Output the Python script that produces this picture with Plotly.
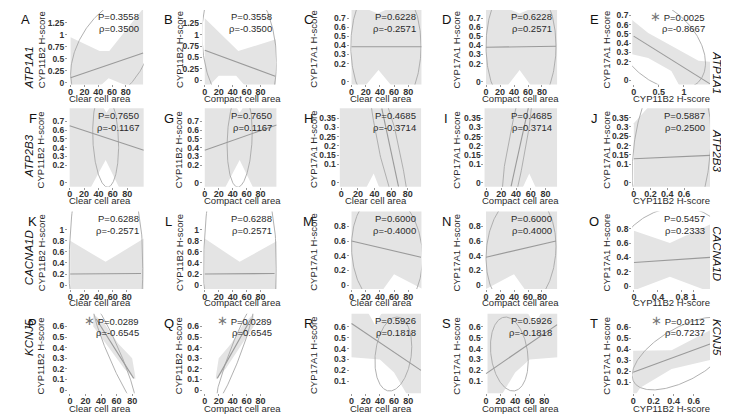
import numpy as np
import plotly.graph_objects as go

W, H = 729, 414
FONT = "Liberation Sans, Arial, sans-serif"
BAND = "#e4e4e4"
LINE_C = "#9a9a9a"
ELL_C = "#a8a8a8"
TXT = "#2a2a2a"

letters = list("ABCDEFGHIJKLMNOPQRST")
genes = ["ATP1A1", "ATP2B3", "CACNA1D", "KCNJ5"]
p_vals = ["0.3558", "0.3558", "0.6228", "0.6228", "0.0025",
          "0.7650", "0.7650", "0.4685", "0.4685", "0.5887",
          "0.6288", "0.6288", "0.6000", "0.6000", "0.5457",
          "0.0289", "0.0289", "0.5926", "0.5926", "0.0112"]
rho_vals = ["0.3500", "-0.3500", "-0.2571", "0.2571", "-0.8667",
            "-0.1167", "0.1167", "-0.3714", "0.3714", "0.2500",
            "-0.2571", "0.2571", "-0.4000", "0.4000", "0.2333",
            "-0.6545", "0.6545", "0.1818", "-0.1818", "0.7237"]
significant = [False, False, False, False, True,
               False, False, False, False, False,
               False, False, False, False, False,
               True, True, False, False, True]

x_titles = ["Clear cell area", "Compact cell area", "Clear cell area",
            "Compact cell area", "CYP11B2 H-score"]
y_titles = ["CYP11B2 H-score", "CYP11B2 H-score", "CYP17A1 H-score",
            "CYP17A1 H-score", "CYP17A1 H-score"]

# axis ranges
x_ranges = [[-3.9, 106], [-2.9, 103], [-2.8, 98.6], [-2.4, 101.8], [-0.03, 1.52],
            [-2.4, 103], [-2.9, 103], [-2, 96.3], [-3, 96], [-0.02, 0.91],
            [-3.2, 104], [-2.9, 103], [-2.8, 98.6], [-2.4, 101.8], [-0.03, 1.27],
            [-2.6, 95], [-2.9, 103], [-2.8, 98.6], [-2.4, 98], [-0.01, 0.76]]
y_ranges = [[-0.04, 1.52], [-0.09, 1.54], [-0.03, 0.79], [-0.03, 0.79], [-0.046, 0.757],
            [-0.045, 0.85], [-0.045, 0.85], [-0.022, 0.404], [-0.022, 0.404], [-0.02, 0.40],
            [-0.07, 1.33], [-0.07, 1.33], [-0.05, 1.0], [-0.05, 1.0], [-0.04, 1.04],
            [-0.03, 0.72], [-0.03, 0.72], [-0.01, 0.72], [-0.01, 0.72], [0.0, 0.72]]

xt_area = [0, 20, 40, 60, 80]
x_ticks = [xt_area] * 4 + [[0, 0.5, 1]] + [xt_area] * 4 + [[0, 0.2, 0.4, 0.6]] + \
          [xt_area] * 4 + [[0, 0.4, 0.8, 1]] + [xt_area] * 4 + [[0, 0.2, 0.4, 0.6]]
yt_a = [0, 0.25, 0.5, 0.75, 1, 1.25]
yt_b = [0, 0.2, 0.3, 0.4, 0.5, 0.6, 0.7]
yt_c = [0, 0.1, 0.15, 0.2, 0.25, 0.3, 0.35]
yt_d = [0, 0.2, 0.4, 0.6, 0.8, 1]
yt_e = [0, 0.2, 0.4, 0.6, 0.8]
yt_f = [0, 0.1, 0.2, 0.3, 0.4, 0.5, 0.6]
yt_g = [0.1, 0.2, 0.3, 0.4, 0.5, 0.6]
y_ticks = [yt_a, yt_a, yt_b, yt_b, yt_b,
           yt_b, yt_b, yt_c, yt_c, yt_c,
           yt_d, yt_d, yt_e, yt_e, yt_e,
           yt_f, yt_f, yt_g, yt_g, yt_g]

# regression lines (x0, y0, x1, y1)
line_x0 = [0, 0, 0, 0, 0, 0, 0, 48.7, 33.3, 0, 0, 0, 0, 0, 0, 33.7, 18, 0, 0, 0]
line_y0 = [0.10, 0.66, 0.385, 0.38, 0.475, 0.65, 0.37, 0.404, -0.02, 0.13,
           0.20, 0.20, 0.60, 0.38, 0.33, 0.67, 0.11, 0.63, 0.17, 0.19]
line_x1 = [105, 101, 100, 100, 1.52, 103, 103, 68.8, 56.9, 0.91,
           100, 100, 98, 100, 1.27, 82, 66, 98, 98, 0.76]
line_y1 = [0.62, 0.09, 0.385, 0.39, -0.04, 0.37, 0.66, -0.022, 0.409, 0.148,
           0.21, 0.21, 0.38, 0.60, 0.40, 0.11, 0.67, 0.20, 0.62, 0.445]

# confidence band edges
hi_x = [[0, 42, 56, 105], [0, 48, 102], [0, 25, 37, 48, 100], [0, 36, 48, 60, 102],
        [-0.03, 0.29, 0.75, 1.29, 1.52],
        [0, 46, 51, 56, 103], [0, 45, 50, 55, 103], [-2, 96], [-3, 96], [0, 0.2, 0.91],
        [0, 50, 104], [0, 50, 104], [0, 100], [0, 102], [0, 0.6, 1.27],
        [30, 45, 62, 80, 84], [16, 20, 38, 55, 70], [0, 25, 33, 42, 98], [2, 58, 67, 75, 100],
        [0, 0.38, 0.76]]
hi_y = [[0.95, 0.66, 0.66, 1.55], [1.36, 0.64, 0.9], [1.4, 0.79, 0.75, 0.79, 1.4], [1.4, 0.79, 0.75, 0.79, 1.4],
        [0.65, 0.51, 0.37, 0.21, 0.2],
        [1.5, 0.86, 0.8, 0.86, 1.5], [1.5, 0.86, 0.8, 0.86, 1.5], [0.6, 0.6], [0.6, 0.6], [0.32, 0.42, 0.6],
        [0.8, 0.42, 0.84], [0.84, 0.42, 0.8], [1.5, 1.5], [1.5, 1.5], [0.77, 0.6, 0.86],
        [0.72, 0.62, 0.44, 0.30, 0.13], [0.13, 0.30, 0.44, 0.62, 0.72], [1.0, 0.72, 0.62, 0.72, 1.0],
        [1.0, 0.72, 0.62, 0.72, 1.0], [0.385, 0.39, 0.57]]
lo_x = [[0, 45, 55, 77, 105], [0, 8, 20, 45, 56, 102], [0, 21, 38, 55, 100], [0, 32, 48, 63, 102],
        [-0.03, 0.29, 0.75, 0.9, 1.52],
        [0, 31, 50, 68.5, 103], [0, 32, 50, 69, 103], [-2, 31, 39, 45, 96], [-3, 50, 58, 66, 96], [0, 0.91],
        [0, 104], [0, 104], [0, 45, 60, 100], [0, 40, 55, 102], [0, 0.6, 1.27],
        [30, 40, 55, 70, 84], [16, 30, 45, 60, 70], [0, 40, 60, 78, 98], [2, 22, 40, 60, 100],
        [0, 0.07, 0.38, 0.76]]
lo_y = [[-0.4, -0.04, 0.09, -0.04, -0.4], [-0.3, -0.09, 0.1, 0.1, -0.09, -0.4], [-0.6, -0.03, 0.13, -0.03, -0.6],
        [-0.6, -0.03, 0.13, -0.03, -0.6],
        [0.28, 0.24, 0.1, -0.05, -0.2],
        [-0.5, -0.05, 0.26, -0.05, -0.5], [-0.5, -0.05, 0.26, -0.05, -0.5], [-0.2, -0.02, 0.05, -0.02, -0.2],
        [-0.2, -0.02, 0.05, -0.02, -0.2], [-0.3, -0.3],
        [-0.3, -0.3], [-0.3, -0.3], [-0.3, -0.05, 0.15, -0.05], [-0.05, 0.15, -0.05, -0.3], [-0.06, 0.13, -0.08],
        [0.6, 0.5, 0.35, 0.2, 0.1], [0.1, 0.2, 0.35, 0.5, 0.6], [0.32, 0.3, 0.18, -0.02, -0.3],
        [-0.3, -0.02, 0.18, 0.3, 0.32], [-0.05, 0.05, 0.22, 0.30]]

# data ellipses: centre, x / y half-extent, correlation
ell_cx = [60, 49.5, 48.5, 50, 0.51, 50, 50, 58, 40, 0.45, 50.5, 50.5, 50, 50, 0.62, 57, 43, 59, 32, 0.5]
ell_cy = [0.65, 0.7, 0.39, 0.39, 0.39, 0.5, 0.5, 0.17, 0.17, 0.15, 0.3, 0.3, 0.45, 0.45, 0.38, 0.34, 0.34,
          0.35, 0.35, 0.36]
ell_ax = [60, 53.5, 49.5, 50, 0.92, 18, 18, 28, 28, 0.47, 52, 52, 50, 50, 0.95, 27, 27, 26, 26, 0.51]
ell_by = [1.1, 1.6, 0.75, 0.75, 0.49, 0.55, 0.55, 0.55, 0.55, 0.5, 2.6, 2.6, 0.8, 0.8, 0.72, 0.45, 0.45,
          0.34, 0.34, 0.33]
ell_rho = [0.43, -0.19, 0.0, 0.0, -0.42, -0.15, 0.15, -0.9, 0.9, 0.2, 0, 0, -0.1, 0.1, 0.15, -0.95, 0.95,
           0.2, -0.2, 0.6]

# ---------------- layout geometry (pixels) ----------------
col_px = [(59, 135), (194, 268), (341, 413), (476, 549), (624, 702)]
row_px = [(2, 77), (101, 180), (205, 283), (308, 388)]
letter_x = [24, 160, 300, 438, 586]
ytitle_x = [32, 170, 305, 448, 598]
xtitle_dx = [-6, 3, -4, 0, 0]
xtitle_dy = [14, 14, 14, 15]
gene_left_y = [36, 149, 251, 352]
gene_right_y = [41, 144, 247, 352]


def fmt(v):
    return "%g" % v


def px(x):
    return x / W


def py(y):
    return 1 - y / H


fig = go.Figure()
layout = dict(width=W, height=H, margin=dict(l=0, r=0, t=0, b=0),
              paper_bgcolor="white", plot_bgcolor="white", showlegend=False,
              font=dict(family=FONT, color=TXT))
annotations = []

t = np.linspace(0, 2 * np.pi, 241)
for i in range(20):
    r, c = divmod(i, 5)
    s = "" if i == 0 else str(i + 1)
    x0p, x1p = col_px[c]
    if i == 7:
        x0p = 331
    y0p, y1p = row_px[r]
    ax = dict(xaxis="x" + s, yaxis="y" + s, hoverinfo="skip")
    bx = list(hi_x[i]) + list(lo_x[i])[::-1]
    by = list(hi_y[i]) + list(lo_y[i])[::-1]
    fig.add_trace(go.Scatter(x=bx, y=by, fill="toself", fillcolor=BAND, mode="lines",
                             line=dict(width=0, color=BAND), **ax))
    d = np.arccos(ell_rho[i])
    ex = ell_cx[i] + ell_ax[i] * np.cos(t)
    ey = ell_cy[i] + ell_by[i] * np.cos(t - d)
    fig.add_trace(go.Scatter(x=ex, y=ey, mode="lines", line=dict(color=ELL_C, width=0.9), **ax))
    fig.add_trace(go.Scatter(x=[line_x0[i], line_x1[i]], y=[line_y0[i], line_y1[i]], mode="lines",
                             line=dict(color=LINE_C, width=1.1), **ax))

    xtickfont = dict(family=FONT, size=9, color="#333")
    ytickfont = dict(family=FONT, size=8.5, color="#333")
    layout["xaxis" + s] = dict(domain=[px(x0p), px(x1p)], range=x_ranges[i], anchor="y" + s,
                               tickvals=x_ticks[i], ticktext=["<b>%s</b>" % fmt(v) for v in x_ticks[i]],
                               showgrid=False, zeroline=False, showline=False, ticks="outside",
                               ticklen=2, tickcolor="#999", tickfont=xtickfont, ticklabelstandoff=-3)
    layout["yaxis" + s] = dict(domain=[py(y1p), py(y0p)], range=y_ranges[i], anchor="x" + s,
                               tickvals=y_ticks[i], ticktext=["<b>%s</b>" % fmt(v) for v in y_ticks[i]],
                               showgrid=False, zeroline=False, showline=False, ticks="outside",
                               ticklen=2, tickcolor="#999", tickfont=ytickfont, ticklabelstandoff=-1)
    lx = letter_x[c] if not (c == 0 and r == 0) else 17
    annotations.append(dict(text=letters[i], x=px(lx), y=py(y0p + 10), xref="paper", yref="paper",
                            showarrow=False, font=dict(size=13, color="#111"), xanchor="center",
                            yanchor="middle"))
    ptxt = "P=" + p_vals[i]
    if significant[i]:
        ptxt = '<span style="color:#777;font-size:13px">∗</span> ' + ptxt
    annotations.append(dict(text=ptxt, x=px(x1p - 3), y=py(y0p + 7), xref="paper", yref="paper",
                            showarrow=False, xanchor="right", yanchor="middle",
                            font=dict(size=9.5, color=TXT)))
    annotations.append(dict(text="ρ=" + rho_vals[i], x=px(x1p - 3), y=py(y0p + 19), xref="paper",
                            yref="paper", showarrow=False, xanchor="right", yanchor="middle",
                            font=dict(size=9.5, color=TXT)))
    annotations.append(dict(text=x_titles[c], x=px((x0p + x1p) / 2 + xtitle_dx[c]), y=py(y1p + xtitle_dy[r]),
                            xref="paper", yref="paper", showarrow=False, xanchor="center",
                            yanchor="middle", font=dict(size=9.5, color=TXT)))
    annotations.append(dict(text=y_titles[c], x=px(ytitle_x[c]), y=py((y0p + y1p) / 2 + 2), xref="paper",
                            yref="paper", showarrow=False, textangle=-90, xanchor="center",
                            yanchor="middle", font=dict(size=9.5, color=TXT)))

for r in range(4):
    annotations.append(dict(text="<i>%s</i>" % genes[r], x=px(12), y=py(gene_left_y[r]), xref="paper",
                            yref="paper", showarrow=False, textangle=-90, font=dict(size=11.5, color="#111")))
    annotations.append(dict(text="<i>%s</i>" % genes[r], x=px(717), y=py(gene_right_y[r]), xref="paper",
                            yref="paper", showarrow=False, textangle=90, font=dict(size=11.5, color="#111")))

layout["annotations"] = annotations
fig.update_layout(**layout)
fig.write_html("out.html")
